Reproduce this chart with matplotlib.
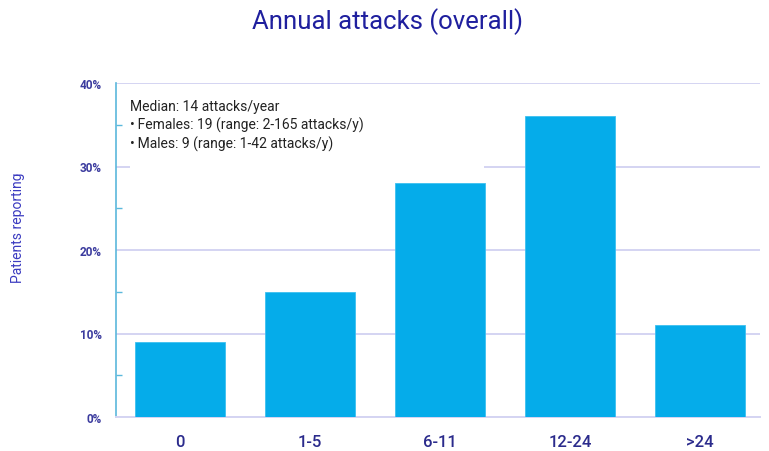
import matplotlib
matplotlib.use("Agg")
import matplotlib.pyplot as plt
from matplotlib.patches import Rectangle
from matplotlib.ticker import FuncFormatter, MultipleLocator

plt.rcParams['font.family'] = ['Roboto', 'DejaVu Sans']

categories = ["0", "1-5", "6-11", "12-24", ">24"]
patients_pct = [9, 15, 28, 36, 11]
note_lines = [
    "Median: 14 attacks/year",
    "\u2022\u2009Females: 19 (range: 2-165 attacks/y)",
    "\u2022\u2009Males: 9 (range: 1-42 attacks/y)",
]

W, H = 769, 452
fig = plt.figure(figsize=(W / 100, H / 100), dpi=100)
ax = fig.add_axes([116 / W, 1 - 418 / H, (760 - 116) / W, (418 - 84) / H])

bar_color = "#05acea"
grid_color = "#d4d4f2"
spine_color = "#5bb8dc"
label_color = "#3b3b9e"

x = list(range(len(categories)))
ax.bar(x, patients_pct, width=0.69, color=bar_color, edgecolor="#3cc0f0",
       linewidth=0.6, zorder=3)

ax.set_xlim(-0.49, 4.46)
ax.set_ylim(0, 40)
ax.yaxis.set_major_locator(MultipleLocator(10))
ax.yaxis.set_minor_locator(MultipleLocator(5))
ax.yaxis.set_major_formatter(FuncFormatter(lambda v, p: f"{int(v)}%"))
ax.grid(axis="y", which="major", color=grid_color, linewidth=1.4, zorder=0)
ax.set_axisbelow(True)

for side in ("top", "right"):
    ax.spines[side].set_visible(False)
ax.spines["left"].set_color(spine_color)
ax.spines["left"].set_linewidth(1.2)
ax.spines["bottom"].set_color(grid_color)
ax.spines["bottom"].set_linewidth(1.4)

ax.tick_params(axis="y", which="major", length=0, pad=10, labelsize=8.5,
               labelcolor=label_color)
ax.tick_params(axis="y", which="minor", direction="in", length=4,
               color=spine_color, width=1)
ax.set_xticks(x)
ax.set_xticklabels(categories)
ax.tick_params(axis="x", length=0, pad=12, labelsize=12, labelcolor="#2b2b8c")
for lbl in ax.get_yticklabels():
    lbl.set_fontweight("bold")
for lbl in ax.get_xticklabels():
    lbl.set_fontweight("medium")

# white panel behind the summary notes
ax.add_patch(Rectangle((-0.38, 29.2), 2.72, 10.4, facecolor="white",
                       edgecolor="none", zorder=1))
ax.text(-0.38, 38.1, "\n".join(note_lines), fontsize=10, color="#222222",
        va="top", ha="left", linespacing=1.3, zorder=4)

fig.text(18 / W, 1 - 228 / H, "Patients reporting", rotation=90,
         fontsize=10, color="#3b3bc0", ha="center", va="center")
fig.text(387 / W, 1 - 22 / H, "Annual attacks (overall)", fontsize=18.5,
         color="#1f1f9e", ha="center", va="center")

fig.savefig("out.png", dpi=100)
